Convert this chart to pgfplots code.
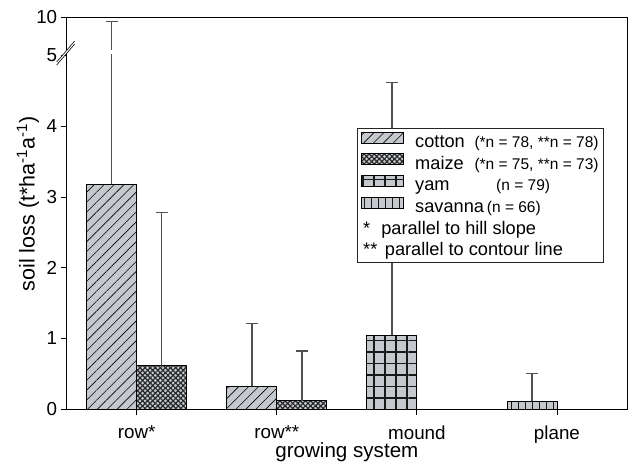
\documentclass[border=0pt]{standalone}
\usepackage{fontspec}
\setmainfont{Liberation Sans}
\usepackage{pgfplots}
\pgfplotsset{compat=1.18}
\usetikzlibrary{patterns.meta}
\definecolor{barfill}{RGB}{197,201,206}
\definecolor{errgray}{RGB}{80,80,80}
\pgfplotsset{
  boxlegend/.style={legend image code/.code={\draw[##1] (0pt,-2pt) rectangle (42pt,9pt);}},
  errstyle/.style={error bars/.cd, y dir=plus, y explicit,
    error bar style={draw=errgray, line width=1.5pt, postaction={}},
    error mark options={rotate=90, mark size=6pt, draw=errgray, line width=1.5pt}},
}
\begin{document}
\begin{tikzpicture}
\useasboundingbox (-66.7pt,-58pt) rectangle (562.3pt,409pt);
\begin{axis}[
  name=ax,
  at={(0,0)}, anchor=south west,
  width=560.3pt, height=392pt, scale only axis,
  xmin=-0.5, xmax=3.5, ymin=0, ymax=5.545,
  ybar, bar width=50pt,
  xtick={0,1,2,3}, xticklabels={row*,row**,mound,plane},
  ytick={0,1,2,3,4,5,5.545}, yticklabels={0,1,2,3,4,5,10},
  xtick pos=bottom, ytick pos=left, tick align=outside,
  major tick length=6pt, tick style={black, line width=0.8pt},
  axis line style={black, line width=0.8pt},
  /pgf/number format/assume math mode=true,
  tick label style={font=\fontsize{18.8}{22}\selectfont},
  xticklabel style={yshift=-7pt},
  xlabel={growing system},
  ylabel={soil loss (t*ha\textsuperscript{-1}a\textsuperscript{-1})},
  xlabel style={font=\fontsize{20.6}{24}\selectfont, at={(axis description cs:0.5,-0.1245)}, anchor=base},
  ylabel style={font=\fontsize{21.5}{25}\selectfont, at={(axis description cs:-0.0691,0.523)}, anchor=center},
  legend style={at={(axis description cs:0.5187,0.716)}, anchor=north west,
    draw=black!85, line width=0.8pt, fill=white,
    font=\fontsize{18.2}{21}\selectfont,
    inner xsep=3.4pt, inner ysep=1.5pt, row sep=0pt, column sep=9.8pt,
    nodes={text height=15.5pt, text depth=3pt, inner ysep=1.6pt, inner xsep=1.5pt}},
  legend cell align=left,
]
\addplot[draw=black, line width=0.8pt, fill=barfill, bar shift=-25pt,
  postaction={pattern={Lines[angle=45,distance=7pt,line width=0.6pt]}, pattern color=black},
  boxlegend, errstyle]
  coordinates {(0,3.18) +- (0,2.298) (1,0.32) +- (0,0.89)};
\addlegendentry{\makebox[59.3pt][l]{cotton}{\fontsize{15.5}{18}\selectfont(*n = 78, **n = 78)}}
\addplot[draw=black, line width=0.8pt, fill=barfill, bar shift=25pt,
  postaction={pattern={Lines[angle=45,distance=3.6pt,line width=1.2pt]}, pattern color=black!85},
  postaction={pattern={Lines[angle=-45,distance=3.6pt,line width=1.2pt]}, pattern color=black!85},
  boxlegend, errstyle]
  coordinates {(0,0.61) +- (0,2.17) (1,0.12) +- (0,0.70)};
\addlegendentry{\makebox[59.3pt][l]{maize}{\fontsize{15.5}{18}\selectfont(*n = 75, **n = 73)}}
\addplot[draw=black, line width=0.8pt, fill=barfill, bar shift=-25pt,
  postaction={pattern={Lines[angle=0,distance=11.5pt,line width=1.2pt]}, pattern color=black!90},
  postaction={pattern={Lines[angle=90,distance=11pt,line width=1.2pt]}, pattern color=black!90},
  boxlegend, errstyle]
  coordinates {(2,1.04) +- (0,3.58)};
\addlegendentry{\makebox[81pt][l]{yam}{\fontsize{15.5}{18}\selectfont(n = 79)}}
\addplot[draw=black, line width=0.8pt, fill=barfill, bar shift=-25pt,
  postaction={pattern={Lines[angle=90,distance=7pt,line width=1pt]}, pattern color=black!90},
  boxlegend, errstyle]
  coordinates {(3,0.11) +- (0,0.39)};
\addlegendentry{\makebox[71.7pt][l]{savanna}{\fontsize{15.5}{18}\selectfont(n = 66)}}
\addlegendimage{empty legend}
\addlegendentry{\hspace{-52pt}*\hspace{11pt}parallel to hill slope}
\addlegendimage{empty legend}
\addlegendentry{\hspace{-52pt}**\hspace{7.5pt}parallel to contour line}
\end{axis}
% axis break marks on the y axis and gap in the tall error bar
\fill[white] ([xshift=42pt,yshift=355pt]ax.south west) rectangle ([xshift=48pt,yshift=359pt]ax.south west);
\fill[white] ([xshift=-10pt,yshift=347pt]ax.south west) -- ([xshift=8pt,yshift=368pt]ax.south west)
  -- ([xshift=8pt,yshift=365pt]ax.south west) -- ([xshift=-10pt,yshift=344pt]ax.south west) -- cycle;
\draw[black, line width=0.6pt] ([xshift=-10pt,yshift=347pt]ax.south west) -- ([xshift=8pt,yshift=368pt]ax.south west);
\draw[black, line width=0.6pt] ([xshift=-10pt,yshift=344pt]ax.south west) -- ([xshift=8pt,yshift=365pt]ax.south west);
\end{tikzpicture}
\end{document}
